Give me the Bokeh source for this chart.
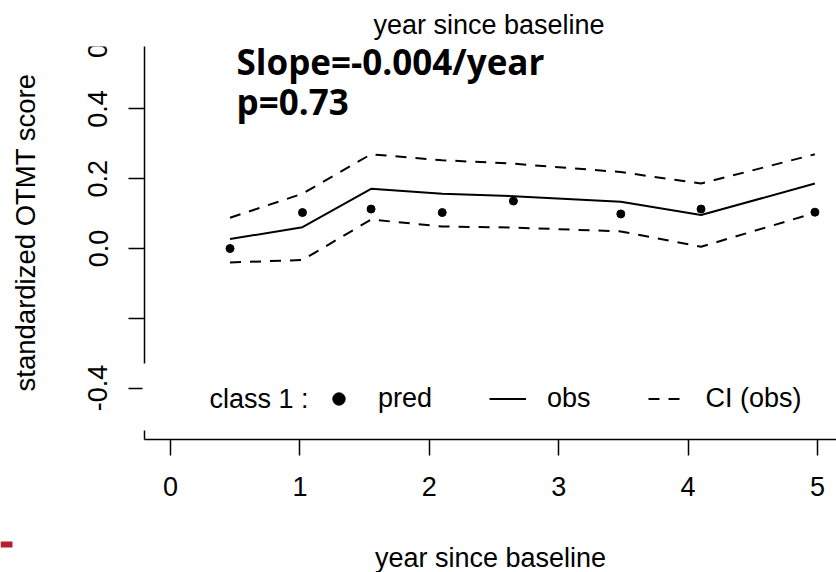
import math
from bokeh.plotting import figure
from bokeh.models import Range1d, FixedTicker, Label, Legend, LegendItem, BoxAnnotation
from bokeh.embed import file_html
from bokeh.resources import INLINE

# ---- data ----
years = [0.46, 1.02, 1.55, 2.10, 2.65, 3.48, 4.10, 4.98]
pred = [0.000, 0.103, 0.113, 0.103, 0.136, 0.099, 0.113, 0.104]
obs = [0.027, 0.061, 0.171, 0.157, 0.150, 0.134, 0.096, 0.186]
ci_upper = [0.088, 0.157, 0.270, 0.253, 0.243, 0.219, 0.186, 0.270]
ci_lower = [-0.040, -0.033, 0.083, 0.063, 0.060, 0.049, 0.005, 0.102]

x_ticks = [0, 1, 2, 3, 4, 5]
y_ticks = [-0.4, -0.2, 0.0, 0.2, 0.4, 0.6]
y_tick_labels = ["-0.4", "", "0.0", "0.2", "0.4", "0.6"]

x_label = "year since baseline"
y_label = "standardized OTMT score"
top_text = "year since baseline"
slope_text = "Slope=-0.004/year"
p_text = "p=0.73"
legend_prefix = "class 1 :"
legend_labels = ["pred", "obs", "CI (obs)"]

# ---- pixel geometry ----
W, H = 836, 572
AX_LEFT, AX_TOP, AX_BOTTOM = 144, 47, 439
X0_PX, PX_PER_X = 170.0, 129.4
Y0_PX, PX_PER_Y = 248.0, 349.0


def px2x(px):
    return (px - X0_PX) / PX_PER_X


def px2y(py):
    return (Y0_PX - py) / PX_PER_Y


FONT = "Liberation Sans"
BOLD_FONT = "Open Sans"
FS = "27px"

p = figure(
    width=W, height=H, output_backend="svg", toolbar_location=None,
    x_range=Range1d(px2x(0), px2x(W)),
    y_range=Range1d(px2y(H), px2y(0)),
    min_border=0, min_border_left=0, min_border_right=0,
    min_border_top=0, min_border_bottom=0,
)
p.outline_line_color = None
p.grid.visible = False
p.background_fill_color = "white"
p.border_fill_color = "white"

for ax in (p.xaxis[0], p.yaxis[0]):
    ax.axis_line_color = "black"
    ax.axis_line_width = 1.5
    ax.major_tick_line_color = "black"
    ax.major_tick_line_width = 1.5
    ax.major_tick_out = 16
    ax.major_tick_in = 0
    ax.minor_tick_out = 0
    ax.minor_tick_in = 0
    ax.major_label_text_font = FONT
    ax.major_label_text_font_size = FS
    ax.major_label_text_color = "black"
    ax.axis_label_text_font = FONT
    ax.axis_label_text_font_style = "normal"
    ax.axis_label_text_color = "black"

p.xaxis.fixed_location = px2y(AX_BOTTOM)
p.xaxis.bounds = (px2x(AX_LEFT), px2x(W))
p.xaxis.ticker = FixedTicker(ticks=x_ticks)
p.xaxis.major_label_standoff = 21
p.xaxis.axis_label = x_label
p.xaxis.axis_label_text_font_size = FS
p.xaxis.axis_label_standoff = 44

p.yaxis.fixed_location = px2x(AX_LEFT)
p.yaxis.bounds = (px2y(AX_BOTTOM), px2y(25))
p.yaxis.ticker = FixedTicker(ticks=y_ticks)
p.yaxis.major_label_overrides = {t: s for t, s in zip(y_ticks, y_tick_labels)}
p.yaxis.major_label_orientation = "vertical"
p.yaxis.major_label_standoff = 21
p.yaxis.axis_label = y_label
p.yaxis.axis_label_text_font_size = "27.5px"
p.yaxis.axis_label_standoff = 45

# ---- series ----
r_obs = p.line(years, obs, line_color="black", line_width=2)
r_up = p.line(years, ci_upper, line_color="black", line_width=2, line_dash="11 9")
r_lo = p.line(years, ci_lower, line_color="black", line_width=2, line_dash="11 9")
r_pred = p.scatter(years, pred, size=8, color="black")

# white strips as in the reference screenshot (top band, and behind the legend)
p.add_layout(BoxAnnotation(left=px2x(60), right=px2x(W), top=px2y(0), bottom=px2y(46),
                           fill_color="white", fill_alpha=1.0, line_color=None))
p.add_layout(BoxAnnotation(left=px2x(142), right=px2x(W), top=px2y(363), bottom=px2y(430),
                           fill_color="white", fill_alpha=1.0, line_color=None))

legend = Legend(
    items=[LegendItem(label=legend_labels[0], renderers=[r_pred]),
           LegendItem(label=legend_labels[1], renderers=[r_obs]),
           LegendItem(label=legend_labels[2], renderers=[r_up])],
    orientation="horizontal", location=(320, H - 413.5),
    glyph_width=37, glyph_height=31, label_height=31, label_standoff=21, spacing=57,
    padding=0, margin=0, border_line_color=None,
    background_fill_color="white", background_fill_alpha=1.0,
    label_text_font=FONT, label_text_font_size=FS, label_text_color="black",
)
p.add_layout(legend)

p.add_layout(Label(x=px2x(209), y=px2y(398), text=legend_prefix, text_font=FONT,
                   text_font_size=FS, text_baseline="middle", text_color="black"))

p.add_layout(Label(x=px2x(488.5), y=px2y(24), text=top_text, text_font=FONT,
                   text_font_size=FS, text_align="center", text_baseline="middle",
                   text_color="black"))

p.add_layout(Label(x=px2x(236), y=px2y(61), text=slope_text, text_font=BOLD_FONT,
                   text_font_size="35px", text_font_style="bold", text_baseline="middle",
                   text_color="black"))
p.add_layout(Label(x=px2x(236), y=px2y(101), text=p_text, text_font=BOLD_FONT,
                   text_font_size="35px", text_font_style="bold", text_baseline="middle",
                   text_color="black"))

# small red mark at bottom-left
p.add_layout(BoxAnnotation(left=px2x(0), right=px2x(12), top=px2y(541), bottom=px2y(547),
                           fill_color="#b5202e", fill_alpha=1.0, line_color=None))

open("out.html", "w").write(file_html(p, INLINE))
